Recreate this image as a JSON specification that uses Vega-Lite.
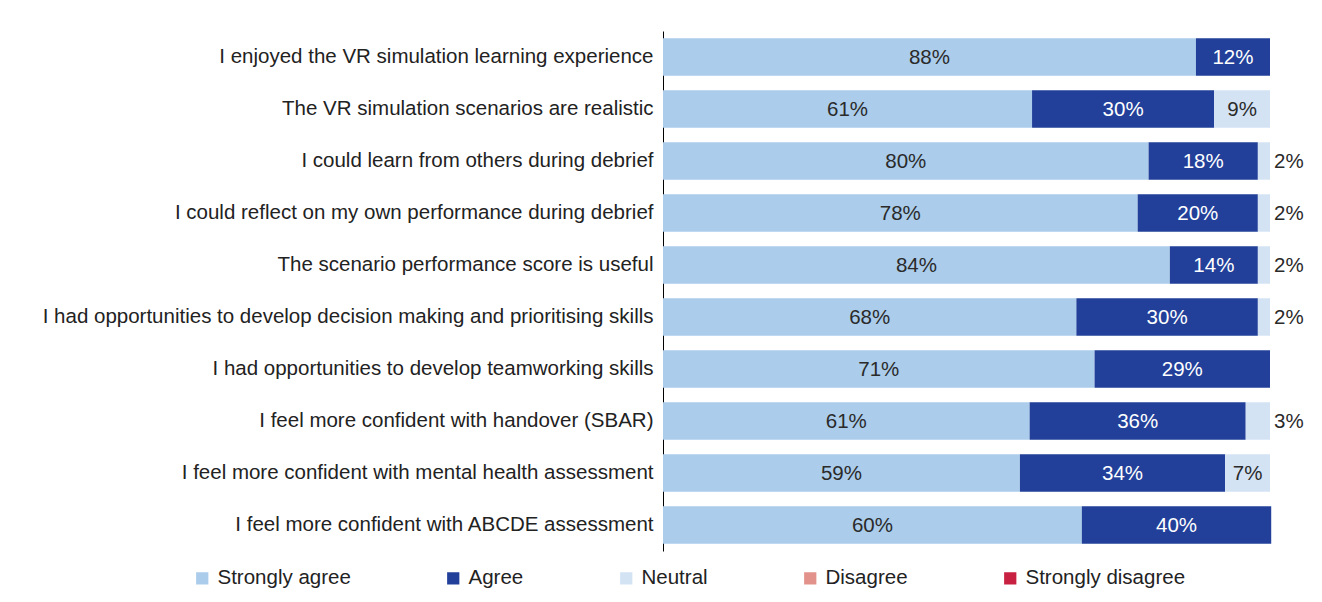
{
  "$schema": "https://vega.github.io/schema/vega-lite/v6.json",
  "autosize": {"type": "none"},
  "padding": {"left": 663, "top": 31, "right": 52, "bottom": 51},
  "width": 607,
  "height": 520,
  "background": "white",
  "config": {
    "font": "Liberation Sans",
    "view": {"stroke": null}
  },
  "data": {
    "values": [
      {"q": "I enjoyed the VR simulation learning experience", "response": "Strongly agree", "order": 1, "value": 87.8, "label": "88%"},
      {"q": "I enjoyed the VR simulation learning experience", "response": "Agree", "order": 2, "value": 12.2, "label": "12%"},
      {"q": "The VR simulation scenarios are realistic", "response": "Strongly agree", "order": 1, "value": 60.8, "label": "61%"},
      {"q": "The VR simulation scenarios are realistic", "response": "Agree", "order": 2, "value": 30.0, "label": "30%"},
      {"q": "The VR simulation scenarios are realistic", "response": "Neutral", "order": 3, "value": 9.2, "label": "9%"},
      {"q": "I could learn from others during debrief", "response": "Strongly agree", "order": 1, "value": 80.0, "label": "80%"},
      {"q": "I could learn from others during debrief", "response": "Agree", "order": 2, "value": 18.0, "label": "18%"},
      {"q": "I could learn from others during debrief", "response": "Neutral", "order": 3, "value": 2.0, "label": "2%"},
      {"q": "I could reflect on my own performance during debrief", "response": "Strongly agree", "order": 1, "value": 78.2, "label": "78%"},
      {"q": "I could reflect on my own performance during debrief", "response": "Agree", "order": 2, "value": 19.8, "label": "20%"},
      {"q": "I could reflect on my own performance during debrief", "response": "Neutral", "order": 3, "value": 2.0, "label": "2%"},
      {"q": "The scenario performance score is useful", "response": "Strongly agree", "order": 1, "value": 83.5, "label": "84%"},
      {"q": "The scenario performance score is useful", "response": "Agree", "order": 2, "value": 14.5, "label": "14%"},
      {"q": "The scenario performance score is useful", "response": "Neutral", "order": 3, "value": 2.0, "label": "2%"},
      {"q": "I had opportunities to develop decision making and prioritising skills", "response": "Strongly agree", "order": 1, "value": 68.1, "label": "68%"},
      {"q": "I had opportunities to develop decision making and prioritising skills", "response": "Agree", "order": 2, "value": 29.9, "label": "30%"},
      {"q": "I had opportunities to develop decision making and prioritising skills", "response": "Neutral", "order": 3, "value": 2.0, "label": "2%"},
      {"q": "I had opportunities to develop teamworking skills", "response": "Strongly agree", "order": 1, "value": 71.1, "label": "71%"},
      {"q": "I had opportunities to develop teamworking skills", "response": "Agree", "order": 2, "value": 28.9, "label": "29%"},
      {"q": "I feel more confident with handover (SBAR)", "response": "Strongly agree", "order": 1, "value": 60.4, "label": "61%"},
      {"q": "I feel more confident with handover (SBAR)", "response": "Agree", "order": 2, "value": 35.6, "label": "36%"},
      {"q": "I feel more confident with handover (SBAR)", "response": "Neutral", "order": 3, "value": 4.0, "label": "3%"},
      {"q": "I feel more confident with mental health assessment", "response": "Strongly agree", "order": 1, "value": 58.8, "label": "59%"},
      {"q": "I feel more confident with mental health assessment", "response": "Agree", "order": 2, "value": 33.8, "label": "34%"},
      {"q": "I feel more confident with mental health assessment", "response": "Neutral", "order": 3, "value": 7.4, "label": "7%"},
      {"q": "I feel more confident with ABCDE assessment", "response": "Strongly agree", "order": 1, "value": 69.0, "label": "60%"},
      {"q": "I feel more confident with ABCDE assessment", "response": "Agree", "order": 2, "value": 31.2, "label": "40%"}
    ]
  },
  "transform": [
    {"stack": "value", "groupby": ["q"], "sort": [{"field": "order", "order": "ascending"}], "as": ["x0", "x1"]},
    {"calculate": "(datum.x0 + datum.x1) / 2", "as": "mid"}
  ],
  "encoding": {
    "y": {
      "field": "q", "type": "nominal", "sort": null,
      "scale": {"paddingInner": 0.28, "paddingOuter": 0.14},
      "axis": {
        "title": null, "ticks": false, "domainColor": "#000000", "domainWidth": 1,
        "labelFontSize": 20.5, "labelColor": "#222222", "labelPadding": 10, "labelLimit": 700
      }
    }
  },
  "layer": [
    {
      "mark": {"type": "bar"},
      "encoding": {
        "x": {"field": "x0", "type": "quantitative", "scale": {"domain": [0, 100], "nice": false}, "axis": null},
        "x2": {"field": "x1"},
        "color": {
          "field": "response", "type": "nominal",
          "scale": {
            "domain": ["Strongly agree", "Agree", "Neutral", "Disagree", "Strongly disagree"],
            "range": ["#abcdeb", "#22409a", "#d3e3f4", "#e2928a", "#c82040"]
          },
          "legend": {
            "title": null, "orient": "none", "direction": "horizontal", "columns": 5,
            "legendX": -471, "legendY": 537,
            "symbolType": "square", "symbolSize": 150, "symbolStrokeWidth": 0,
            "labelFontSize": 20.5, "labelColor": "#222222", "columnPadding": 92, "labelOffset": 5
          }
        }
      }
    },
    {
      "transform": [{"filter": "datum.value >= 5"}],
      "mark": {"type": "text", "align": "center", "baseline": "middle", "fontSize": 20.5, "dy": 1},
      "encoding": {
        "x": {"field": "mid", "type": "quantitative"},
        "text": {"field": "label"},
        "color": {
          "condition": {"test": "datum.response === 'Agree'", "value": "#ffffff"},
          "value": "#2a2a2a"
        }
      }
    },
    {
      "transform": [{"filter": "datum.value < 5"}],
      "mark": {"type": "text", "align": "left", "baseline": "middle", "fontSize": 20.5, "dx": 4, "dy": 1, "color": "#2a2a2a"},
      "encoding": {
        "x": {"field": "x1", "type": "quantitative"},
        "text": {"field": "label"}
      }
    }
  ]
}
